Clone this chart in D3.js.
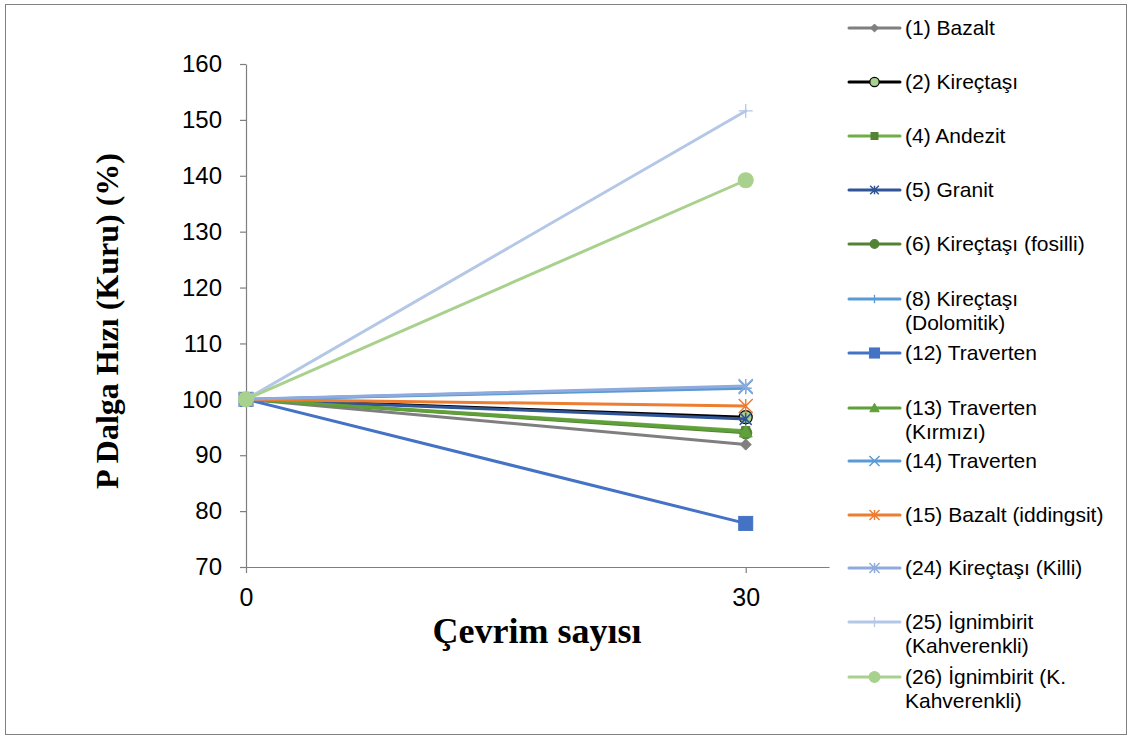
<!DOCTYPE html>
<html>
<head>
<meta charset="utf-8">
<script src="https://cdn.jsdelivr.net/npm/d3@7"></script>
<style>
  html, body { margin: 0; padding: 0; background: #fff; }
  svg { display: block; }
</style>
</head>
<body>
<svg id="chart" width="1132" height="740"></svg>
<script>
// Cycle counts on the x axis
const cycles = [0, 30];

// Series names (legend labels, split into lines)
const seriesNames = [
  ["(1) Bazalt"],
  ["(2) Kireçtaşı"],
  ["(4) Andezit"],
  ["(5) Granit"],
  ["(6) Kireçtaşı (fosilli)"],
  ["(8) Kireçtaşı", "(Dolomitik)"],
  ["(12) Traverten"],
  ["(13) Traverten", "(Kırmızı)"],
  ["(14) Traverten"],
  ["(15) Bazalt (iddingsit)"],
  ["(24) Kireçtaşı (Killi)"],
  ["(25) İgnimbirit", "(Kahverenkli)"],
  ["(26) İgnimbirit (K.", "Kahverenkli)"]
];

// P-wave velocity (dry, %) at 0 and 30 cycles
const bazalt1     = [100, 91.9];
const kirectasi2  = [100, 96.8];
const andezit4    = [100, 94.4];
const granit5     = [100, 96.5];
const fosilli6    = [100, 94.0];
const dolomitik8  = [100, 102.0];
const traverten12 = [100, 77.8];
const kirmizi13   = [100, 94.2];
const traverten14 = [100, 102.2];
const iddingsit15 = [100, 98.8];
const killi24     = [100, 102.4];
const ignimbirit25 = [100, 151.6];
const ignimbirit26 = [100, 139.2];

const seriesValues = [bazalt1, kirectasi2, andezit4, granit5, fosilli6, dolomitik8,
  traverten12, kirmizi13, traverten14, iddingsit15, killi24, ignimbirit25, ignimbirit26];

// Axis ticks
const yTicks = [70, 80, 90, 100, 110, 120, 130, 140, 150, 160];
const xTicks = [0, 30];

// Styles per series: line colour, marker kind, marker fill, marker stroke, marker size
const styles = [
  { color: "#7f7f7f", marker: "diamond",  fill: "#7f7f7f", stroke: "#7f7f7f", size: 11 },
  { color: "#000000", marker: "circle",   fill: "#a9d18e", stroke: "#000000", size: 13 },
  { color: "#70ad47", marker: "square",   fill: "#548235", stroke: "#548235", size: 8 },
  { color: "#2f5597", marker: "star",     fill: "none",    stroke: "#2f5597", size: 12 },
  { color: "#548235", marker: "circle",   fill: "#548235", stroke: "#548235", size: 12 },
  { color: "#5b9bd5", marker: "plus",     fill: "none",    stroke: "#5b9bd5", size: 12 },
  { color: "#4472c4", marker: "square",   fill: "#4472c4", stroke: "#4472c4", size: 14 },
  { color: "#5fa03b", marker: "triangle", fill: "#5fa03b", stroke: "#5fa03b", size: 13 },
  { color: "#5b9bd5", marker: "x",        fill: "none",    stroke: "#5b9bd5", size: 14 },
  { color: "#ed7d31", marker: "star",     fill: "none",    stroke: "#ed7d31", size: 14 },
  { color: "#8faadc", marker: "star",     fill: "none",    stroke: "#8faadc", size: 14 },
  { color: "#b4c7e7", marker: "plus",     fill: "none",    stroke: "#b4c7e7", size: 14 },
  { color: "#a9d18e", marker: "circle",   fill: "#a9d18e", stroke: "#a9d18e", size: 15 }
];

const svg = d3.select("#chart");

// Outer frame
svg.append("rect")
  .attr("x", 5.5).attr("y", 4.5)
  .attr("width", 1121).attr("height", 730)
  .attr("fill", "none").attr("stroke", "#808080").attr("stroke-width", 1);

const plot = { left: 246, right: 829, top: 64, bottom: 567 };

const x = d3.scaleLinear().domain([0, 35]).range([plot.left, plot.right]);
const y = d3.scaleLinear().domain([70, 160]).range([plot.bottom, plot.top]);

const tickFont = "'Liberation Sans', Arial, sans-serif";

// Y axis
const yAxis = svg.append("g")
  .attr("transform", `translate(${plot.left},0)`)
  .call(d3.axisLeft(y).tickValues(yTicks).tickSize(6).tickPadding(18).tickSizeOuter(0));
yAxis.select(".domain").attr("stroke", "#7f7f7f").attr("stroke-width", 1.2);
yAxis.selectAll(".tick line").attr("stroke", "#7f7f7f").attr("stroke-width", 1.2);
yAxis.selectAll(".tick text")
  .attr("font-family", tickFont)
  .attr("font-size", 24).attr("fill", "#000");

// X axis
const xAxis = svg.append("g")
  .attr("transform", `translate(0,${plot.bottom})`)
  .call(d3.axisBottom(x).tickValues(xTicks).tickSize(6).tickPadding(15).tickSizeOuter(0));
xAxis.select(".domain").attr("stroke", "#7f7f7f").attr("stroke-width", 1.2);
xAxis.selectAll(".tick line").attr("stroke", "#7f7f7f").attr("stroke-width", 1.2);
xAxis.selectAll(".tick text")
  .attr("font-family", tickFont)
  .attr("font-size", 25).attr("fill", "#000");

// Axis titles
svg.append("text")
  .attr("x", 537).attr("y", 643)
  .attr("text-anchor", "middle")
  .attr("font-family", "'Liberation Serif', 'Times New Roman', serif")
  .attr("font-weight", "bold").attr("font-size", 36)
  .text("Çevrim sayısı");

svg.append("text")
  .attr("transform", "translate(118,321) rotate(-90)")
  .attr("text-anchor", "middle")
  .attr("font-family", "'Liberation Serif', 'Times New Roman', serif")
  .attr("font-weight", "bold").attr("font-size", 32)
  .text("P Dalga Hızı (Kuru) (%)");

// Marker drawing helper
function drawMarker(g, kind, cx, cy, s, st) {
  const h = s / 2;
  if (kind === "circle") {
    g.append("circle").attr("cx", cx).attr("cy", cy).attr("r", h)
      .attr("fill", st.fill).attr("stroke", st.stroke).attr("stroke-width", 1.2);
  } else if (kind === "square") {
    g.append("rect").attr("x", cx - h).attr("y", cy - h).attr("width", s).attr("height", s)
      .attr("fill", st.fill).attr("stroke", st.stroke).attr("stroke-width", 1);
  } else if (kind === "diamond") {
    g.append("path")
      .attr("d", `M${cx},${cy - h}L${cx + h},${cy}L${cx},${cy + h}L${cx - h},${cy}Z`)
      .attr("fill", st.fill).attr("stroke", st.stroke).attr("stroke-width", 1);
  } else if (kind === "triangle") {
    g.append("path")
      .attr("d", `M${cx},${cy - h}L${cx + h},${cy + h * 0.8}L${cx - h},${cy + h * 0.8}Z`)
      .attr("fill", st.fill).attr("stroke", st.stroke).attr("stroke-width", 1);
  } else if (kind === "plus") {
    g.append("path")
      .attr("d", `M${cx - h},${cy}L${cx + h},${cy}M${cx},${cy - h}L${cx},${cy + h}`)
      .attr("fill", "none").attr("stroke", st.stroke).attr("stroke-width", 1.3);
  } else if (kind === "x") {
    g.append("path")
      .attr("d", `M${cx - h},${cy - h}L${cx + h},${cy + h}M${cx - h},${cy + h}L${cx + h},${cy - h}`)
      .attr("fill", "none").attr("stroke", st.stroke).attr("stroke-width", 1.5);
  } else if (kind === "star") {
    g.append("path")
      .attr("d", `M${cx - h},${cy - h}L${cx + h},${cy + h}M${cx - h},${cy + h}L${cx + h},${cy - h}M${cx},${cy - h}L${cx},${cy + h}`)
      .attr("fill", "none").attr("stroke", st.stroke).attr("stroke-width", 1.5);
  }
}

// Series lines and markers
const line = d3.line().x((d, i) => x(cycles[i])).y(d => y(d));
const seriesG = svg.append("g");
seriesValues.forEach((vals, k) => {
  const st = styles[k];
  const g = seriesG.append("g");
  g.append("path")
    .attr("d", line(vals))
    .attr("fill", "none").attr("stroke", st.color)
    .attr("stroke-width", 3).attr("stroke-linecap", "round");
  vals.forEach((v, i) => drawMarker(g, st.marker, x(cycles[i]), y(v), st.size, st));
});

// Legend
const legendY = [28, 82, 136, 190, 244, 299, 353, 408, 461, 515, 568, 622, 677];
const legend = svg.append("g");
seriesNames.forEach((lines, k) => {
  const st = styles[k];
  const cy = legendY[k];
  const g = legend.append("g");
  g.append("line").attr("x1", 849).attr("x2", 900).attr("y1", cy).attr("y2", cy)
    .attr("stroke", st.color).attr("stroke-width", 3).attr("stroke-linecap", "round");
  drawMarker(g, st.marker, 874.5, cy, Math.max(7, st.size * 0.72), st);
  const t = g.append("text")
    .attr("x", 905).attr("y", cy + 7)
    .attr("font-family", tickFont)
    .attr("font-size", 21).attr("fill", "#000");
  lines.forEach((ln, j) => {
    t.append("tspan").attr("x", 905).attr("dy", j === 0 ? 0 : 23.5).text(ln);
  });
});
</script>
</body>
</html>
